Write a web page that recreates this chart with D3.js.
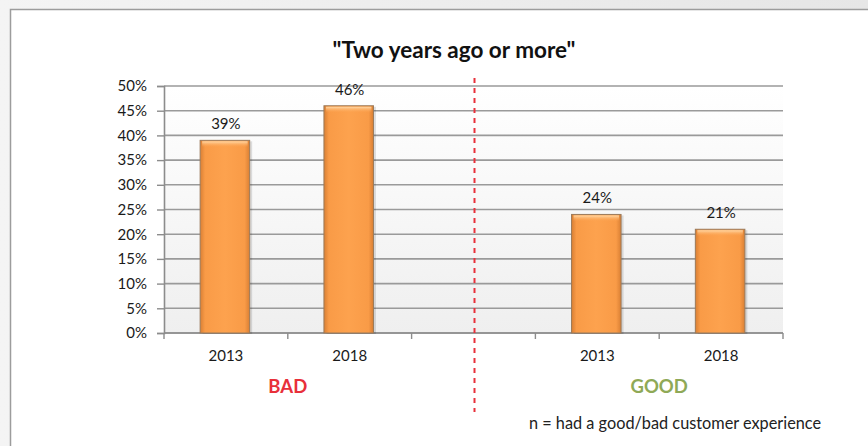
<!DOCTYPE html>
<html>
<head>
<meta charset="utf-8">
<script src="https://cdn.jsdelivr.net/npm/d3@7"></script>
<style>
  html, body { margin: 0; padding: 0; background: #ebebeb; }
  svg { display: block; }
</style>
</head>
<body>
<svg id="chart" width="868" height="446"></svg>
<script>
// Chart data
const categories = ["2013", "2018", "", "2013 ", "2018 "];
const tickLabels = ["2013", "2018", "", "2013", "2018"];
const values = [39, 46, null, 24, 21];
const yTicks = [0, 5, 10, 15, 20, 25, 30, 35, 40, 45, 50];
const groupLabels = ["BAD", "GOOD"];
const titleText = "\"Two years ago or more\"";
const noteText = "n = had a good/bad customer experience";

const W = 868, H = 446;
const svg = d3.select("#chart");
const font = "Lato, 'Open Sans', sans-serif";

const defs = svg.append("defs");
const bgGrad = defs.append("linearGradient").attr("id", "outerBg").attr("x1", 0).attr("y1", 0).attr("x2", 1).attr("y2", 0);
bgGrad.append("stop").attr("offset", 0).attr("stop-color", "#f4f4f4");
bgGrad.append("stop").attr("offset", 1).attr("stop-color", "#e6e6e6");

const plotGrad = defs.append("linearGradient").attr("id", "plotBg").attr("x1", 0).attr("y1", 0).attr("x2", 0).attr("y2", 1);
plotGrad.append("stop").attr("offset", 0).attr("stop-color", "#ffffff");
plotGrad.append("stop").attr("offset", 1).attr("stop-color", "#efefef");

const barGrad = defs.append("linearGradient").attr("id", "barFill").attr("x1", 0).attr("y1", 0).attr("x2", 1).attr("y2", 0);
barGrad.append("stop").attr("offset", 0).attr("stop-color", "#d97f34");
barGrad.append("stop").attr("offset", 0.1).attr("stop-color", "#f99b47");
barGrad.append("stop").attr("offset", 0.5).attr("stop-color", "#fda24e");
barGrad.append("stop").attr("offset", 0.9).attr("stop-color", "#f99b47");
barGrad.append("stop").attr("offset", 1).attr("stop-color", "#d97f34");

const capGrad = defs.append("linearGradient").attr("id", "capFill").attr("x1", 0).attr("y1", 0).attr("x2", 0).attr("y2", 1);
capGrad.append("stop").attr("offset", 0).attr("stop-color", "#ffd9a8");
capGrad.append("stop").attr("offset", 1).attr("stop-color", "#fda24e").attr("stop-opacity", 0);

// Outer frame and white panel
svg.append("rect").attr("width", W).attr("height", H).attr("fill", "url(#outerBg)");
svg.append("rect").attr("x", 10.5).attr("y", 9.5).attr("width", W).attr("height", H)
  .attr("fill", "#ffffff").attr("stroke", "#9c9c9c").attr("stroke-width", 1.5);

// Plot geometry
const plot = { left: 164, right: 783, top: 86, bottom: 333 };

const x = d3.scaleBand().domain(categories).range([plot.left, plot.right]).paddingInner(0).paddingOuter(0);
const y = d3.scaleLinear().domain([0, 50]).range([plot.bottom, plot.top]);
const barW = x.bandwidth() * 0.4;

// Plot area background
svg.append("rect").attr("x", plot.left).attr("y", plot.top)
  .attr("width", plot.right - plot.left).attr("height", plot.bottom - plot.top)
  .attr("fill", "url(#plotBg)");

// Gridlines
svg.append("g").selectAll("line").data(yTicks).join("line")
  .attr("x1", plot.left).attr("x2", plot.right)
  .attr("y1", d => y(d)).attr("y2", d => y(d))
  .attr("stroke", "#9a9a9a").attr("stroke-width", 1.6);

// Y axis
const yAxis = svg.append("g").attr("transform", `translate(${plot.left},0)`)
  .call(d3.axisLeft(y).tickValues(yTicks).tickSize(7).tickPadding(10).tickFormat(d => d + "%"));
yAxis.select(".domain").attr("stroke", "#8c8c8c").attr("stroke-width", 1.6);
yAxis.selectAll(".tick line").attr("stroke", "#8c8c8c").attr("stroke-width", 1.4);
yAxis.selectAll(".tick text").attr("font-family", font).attr("font-size", 15).attr("fill", "#1a1a1a");

// X axis: ticks at category boundaries
const boundaries = categories.map(c => x(c)).concat([plot.right]);
svg.append("line").attr("x1", plot.left).attr("x2", plot.right)
  .attr("y1", plot.bottom).attr("y2", plot.bottom)
  .attr("stroke", "#8c8c8c").attr("stroke-width", 1.6);
svg.append("g").selectAll("line").data(boundaries).join("line")
  .attr("x1", d => d).attr("x2", d => d)
  .attr("y1", plot.bottom).attr("y2", plot.bottom + 6)
  .attr("stroke", "#8c8c8c").attr("stroke-width", 1.4);
svg.append("g").selectAll("text").data(categories).join("text")
  .attr("x", d => x(d) + x.bandwidth() / 2).attr("y", plot.bottom + 28)
  .attr("text-anchor", "middle").attr("font-family", font).attr("font-size", 15).attr("fill", "#1a1a1a")
  .text((d, i) => tickLabels[i]);

// Bars
const barData = categories.map((c, i) => ({ c, v: values[i] })).filter(d => d.v != null);
const bars = svg.append("g");
bars.selectAll("rect.shadow").data(barData).join("rect").attr("class", "shadow")
  .attr("x", d => x(d.c) + (x.bandwidth() - barW) / 2 + 1.5).attr("y", d => y(d.v) + 1)
  .attr("width", barW).attr("height", d => y(0) - y(d.v))
  .attr("fill", "#000").attr("opacity", 0.12);
bars.selectAll("rect.bar").data(barData).join("rect").attr("class", "bar")
  .attr("x", d => x(d.c) + (x.bandwidth() - barW) / 2 - 1).attr("y", d => y(d.v))
  .attr("width", barW).attr("height", d => y(0) - y(d.v))
  .attr("fill", "url(#barFill)").attr("stroke", "#9b7a5a").attr("stroke-width", 1);
bars.selectAll("rect.cap").data(barData).join("rect").attr("class", "cap")
  .attr("x", d => x(d.c) + (x.bandwidth() - barW) / 2 + 1).attr("y", d => y(d.v) + 1)
  .attr("width", barW - 4).attr("height", 6)
  .attr("fill", "url(#capFill)");

// Value labels
svg.append("g").selectAll("text").data(barData).join("text")
  .attr("x", d => x(d.c) + x.bandwidth() / 2).attr("y", d => y(d.v) - 11)
  .attr("text-anchor", "middle").attr("font-family", font).attr("font-size", 15).attr("fill", "#1a1a1a")
  .text(d => d.v + "%");

// Divider between groups
const divX = x("") + x.bandwidth() / 2 + 1;
svg.append("line").attr("x1", divX).attr("x2", divX).attr("y1", 78).attr("y2", 412)
  .attr("stroke", "#e8303a").attr("stroke-width", 2).attr("stroke-dasharray", "5,5");

// Group labels, centred on the boundary between each pair of years
const groupX = [x("2018"), x("2018 ")];
const groupColors = ["#e8303a", "#8fa957"];
svg.append("g").selectAll("text").data(groupLabels).join("text")
  .attr("x", (d, i) => groupX[i]).attr("y", 393)
  .attr("text-anchor", "middle").attr("font-family", font).attr("font-weight", "bold")
  .attr("font-size", 18.5).attr("fill", (d, i) => groupColors[i])
  .text(d => d);

// Title
svg.append("text").attr("x", 454).attr("y", 58).attr("text-anchor", "middle")
  .attr("font-family", font).attr("font-weight", "bold").attr("font-size", 22.5).attr("fill", "#111")
  .text(titleText);

// Footnote
svg.append("text").attr("x", 529).attr("y", 429)
  .attr("font-family", font).attr("font-size", 16.3).attr("fill", "#222")
  .text(noteText);
</script>
</body>
</html>
